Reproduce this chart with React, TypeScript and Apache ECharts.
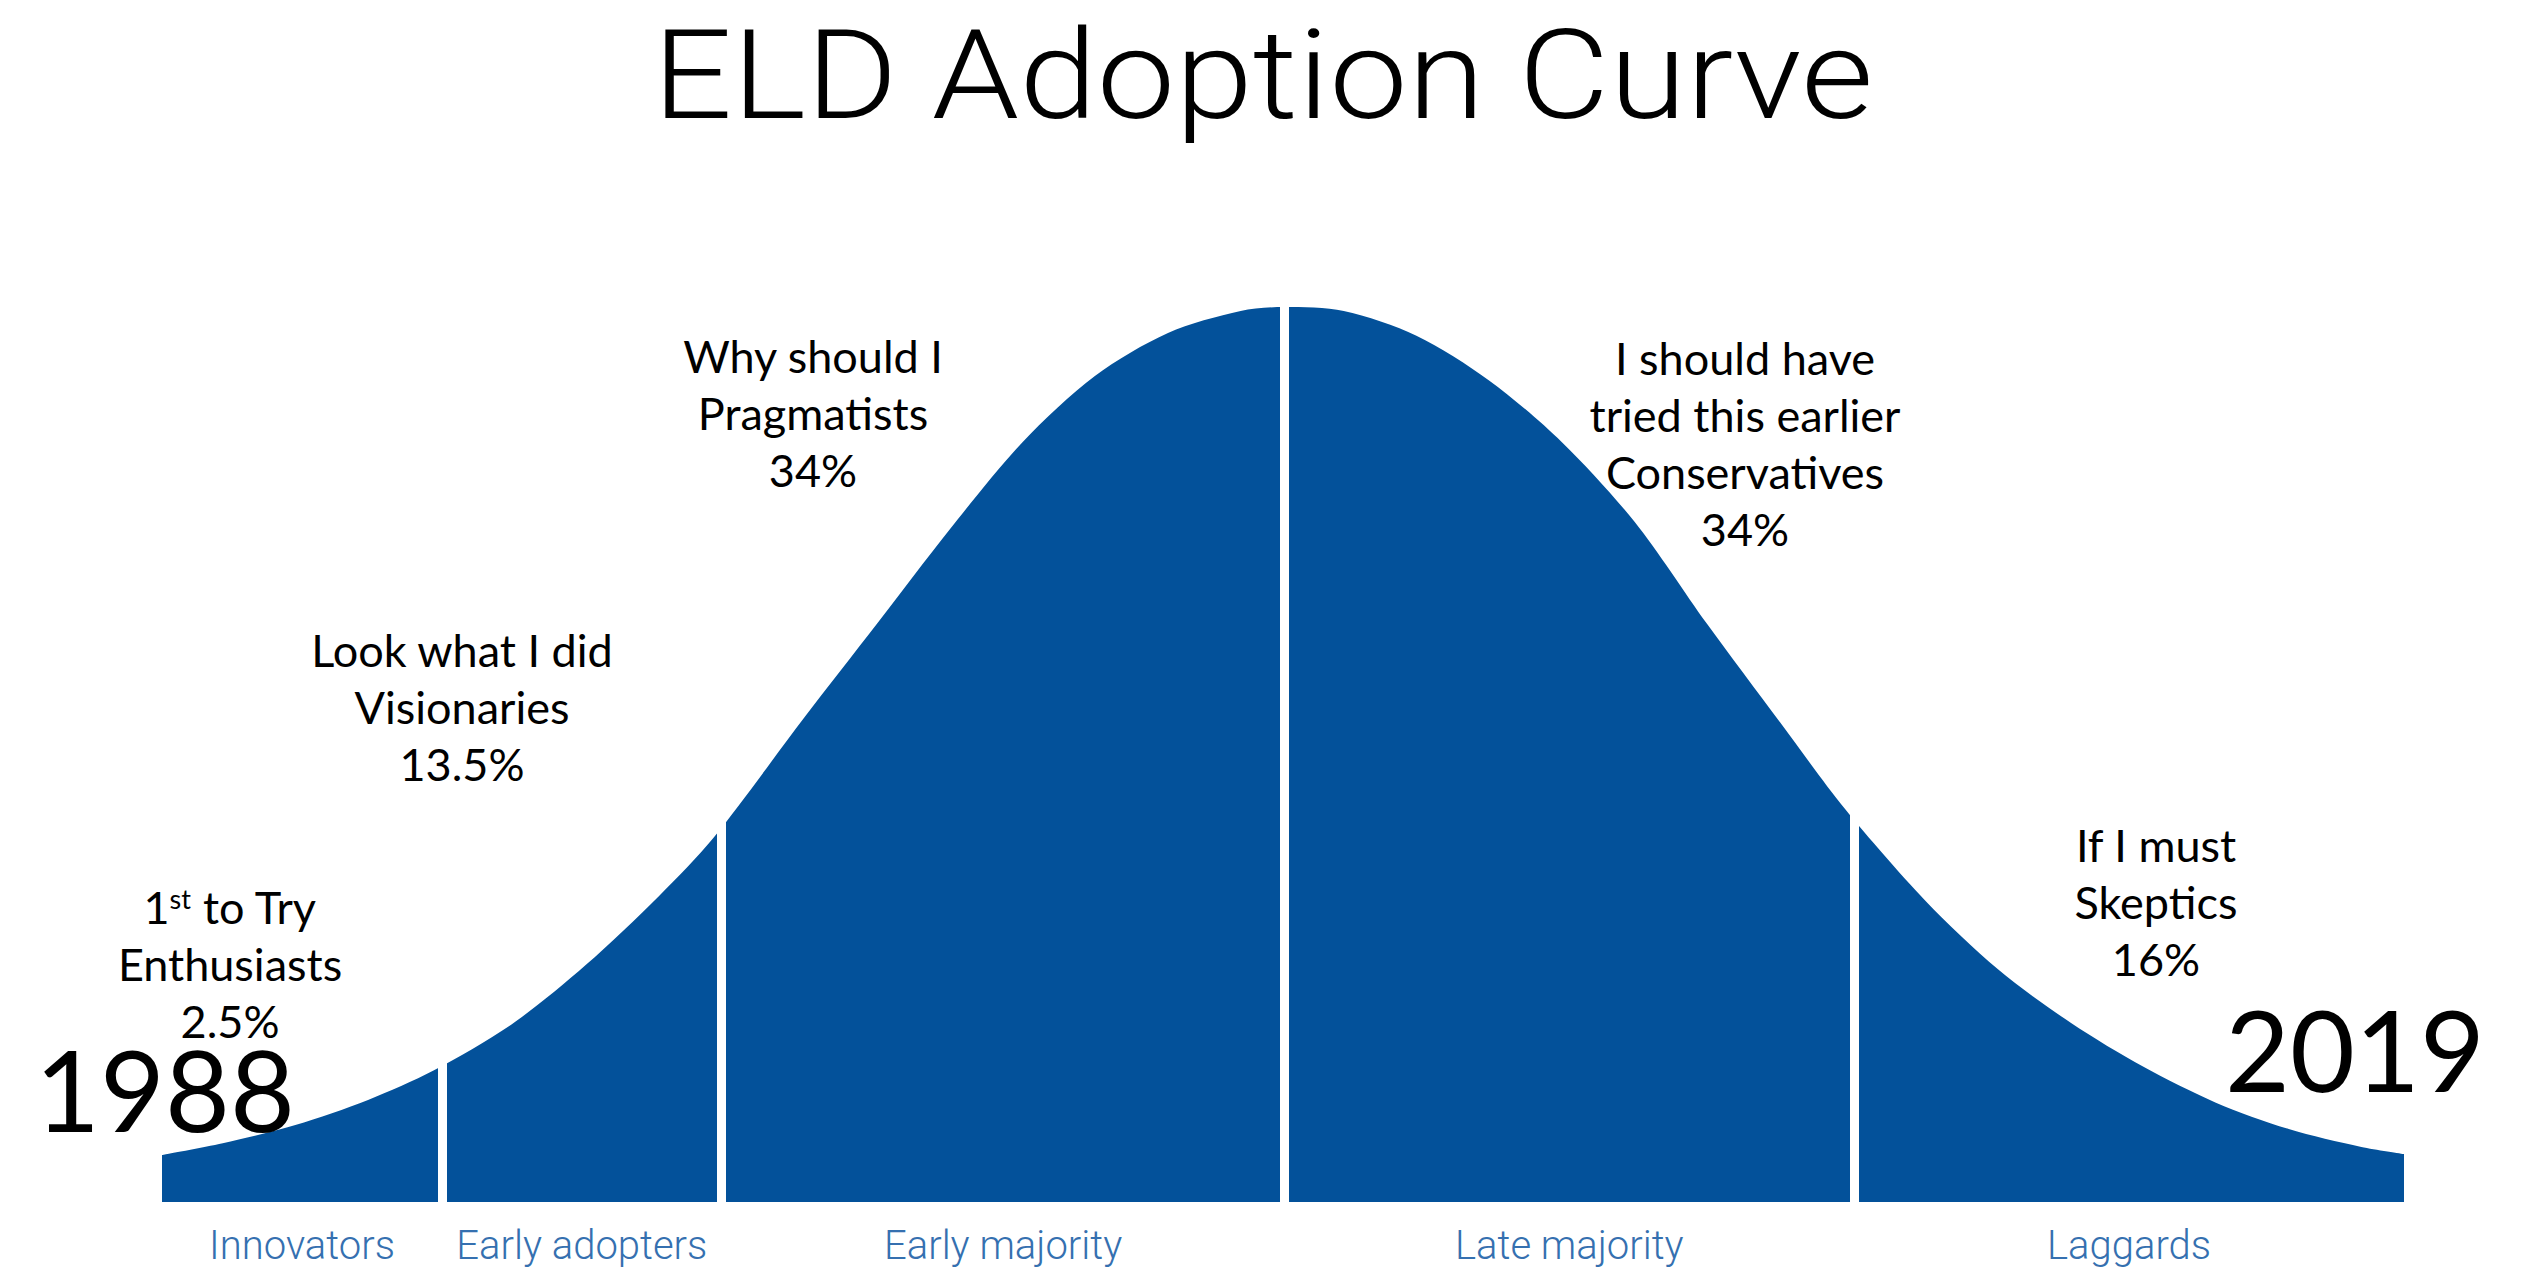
import React, { useEffect, useRef } from "react";
import * as echarts from "echarts";

// ---- data ----
const title = "ELD Adoption Curve";
const segments = ["Innovators", "Early adopters", "Early majority", "Late majority", "Laggards"];
const taglines = ["1st to Try", "Look what I did", "Why should I", "I should have\ntried this earlier", "If I must"];
const personas = ["Enthusiasts", "Visionaries", "Pragmatists", "Conservatives", "Skeptics"];
const shares = ["2.5%", "13.5%", "34%", "34%", "16%"];
const years = ["1988", "2019"];
// curve: x = position along the axis (0–100), y = height relative to the peak (0–100)
const curveX = [0, 2.71, 5.95, 9.19, 12.11, 15.68, 18.91, 22.17, 24.6, 28.64, 31.89, 35.15, 38.38, 41.61, 44.87, 48.11, 50.04,
  52.71, 55.95, 59.19, 62.44, 65.68, 68.91, 72.17, 75.07, 78.64, 81.89, 85.15, 88.38, 91.61, 94.86, 98.1, 100];
const curveY = [5.25, 6.56, 8.6, 11.4, 14.68, 20.0, 26.5, 34.2, 40.7, 54.1, 64.6, 75.2, 84.9, 92.3, 97.1, 99.55, 100,
  99.55, 96.8, 91.8, 84.9, 76.0, 64.6, 53.6, 43.9, 33.7, 26.0, 20.0, 15.1, 11.1, 8.16, 6.15, 5.36];
// white gaps between the segments: position and the height they reach
const dividers = [12.49, 24.96, 50.07, 75.47];
const dividerTops = [17, 45, 100, 46];

// ---- layout ----
const W = 2535, H = 1270;
const GRID = { left: 162, right: 131, top: 307, bottom: 68 };
const BLUE = "#03519A";
const LABEL_BLUE = "#3570B0";
const ANN_FONT = "Lato, 'Noto Sans', sans-serif";
const annotationPos = [
  { x: 230, y: 907 },
  { x: 462, y: 650 },
  { x: 813, y: 356 },
  { x: 1745, y: 358 },
  { x: 2156, y: 845 },
];
const yearPos = [
  { x: 165, y: 1088 },
  { x: 2355, y: 1048 },
];
const LINE_H = 57;

export default function App() {
  const ref = useRef<HTMLDivElement>(null);
  useEffect(() => {
    if (!ref.current) return;
    const chart = echarts.init(ref.current, undefined, { renderer: "svg" });
    const gw = W - GRID.left - GRID.right;
    const bounds = [0, ...dividers, 100];
    const toPx = (v: number) => GRID.left + (v / 100) * gw;

    const graphic: any[] = [];
    graphic.push({
      type: "text",
      x: 1263,
      y: 75,
      scaleX: 1.128,
      z: 100,
      style: {
        text: title,
        fontFamily: "Roboto, 'Liberation Sans', sans-serif",
        fontWeight: 300,
        fontSize: 124,
        lineHeight: 124,
        fill: "#000",
        align: "center",
        verticalAlign: "middle",
      },
    });

    // segment labels under the curve
    segments.forEach((s, i) => {
      const c = (bounds[i] + bounds[i + 1]) / 2;
      graphic.push({
        type: "text",
        x: toPx(c),
        y: 1245,
        z: 100,
        style: {
          text: s,
          fontFamily: "Roboto, 'Liberation Sans', sans-serif",
          fontWeight: 300,
          fontSize: 40,
          fill: LABEL_BLUE,
          align: "center",
          verticalAlign: "middle",
        },
      });
    });

    // annotations: one text per line
    const rich = {
      n: { fontFamily: ANN_FONT, fontSize: 45, lineHeight: 45, fill: "#000" },
      s: { fontFamily: ANN_FONT, fontSize: 27, lineHeight: 30, fill: "#000", verticalAlign: "top" },
    };
    taglines.forEach((t, i) => {
      const lines = [...t.split("\n"), personas[i], shares[i]];
      lines.forEach((line, k) => {
        const m = line.match(/^(\d+)(st|nd|rd|th)(.*)$/);
        const text = m ? `{n|${m[1]}}{s|${m[2]}}{n|${m[3]}}` : `{n|${line}}`;
        graphic.push({
          type: "text",
          x: annotationPos[i].x,
          y: annotationPos[i].y + k * LINE_H,
          z: 100,
          style: {
            text,
            rich,
            fontFamily: ANN_FONT,
            fontSize: 45,
            lineHeight: 45,
            fill: "#000",
            align: "center",
            verticalAlign: "middle",
          },
        });
      });
    });

    years.forEach((yv, i) => {
      graphic.push({
        type: "text",
        x: yearPos[i].x,
        y: yearPos[i].y,
        z: 100,
        style: {
          text: yv,
          fontFamily: ANN_FONT,
          fontSize: 112,
          lineHeight: 88,
          fill: "#000",
          align: "center",
          verticalAlign: "middle",
        },
      });
    });

    chart.setOption({
      animation: false,
      backgroundColor: "#fff",
      grid: { ...GRID },
      xAxis: { type: "value", min: 0, max: 100, show: false },
      yAxis: { type: "value", min: 0, max: 100, show: false },
      series: [
        {
          type: "line",
          data: curveX.map((x, i) => [x, curveY[i]]),
          smooth: 0.3,
          symbol: "none",
          lineStyle: { width: 0, color: BLUE },
          areaStyle: { color: BLUE, opacity: 1 },
          itemStyle: { color: BLUE },
          silent: true,
          markLine: {
            silent: true,
            symbol: ["none", "none"],
            label: { show: false },
            lineStyle: { color: "#fff", width: 9, type: "solid" },
            data: dividers.map((d, i) => [
              { coord: [d, 0] },
              { coord: [d, dividerTops[i]] },
            ]),
          },
        },
      ],
      graphic,
    });
    return () => chart.dispose();
  }, []);
  return (
    <div
      ref={ref}
      style={{ position: "fixed", left: 0, top: 0, width: W, height: H, background: "#fff" }}
    />
  );
}
